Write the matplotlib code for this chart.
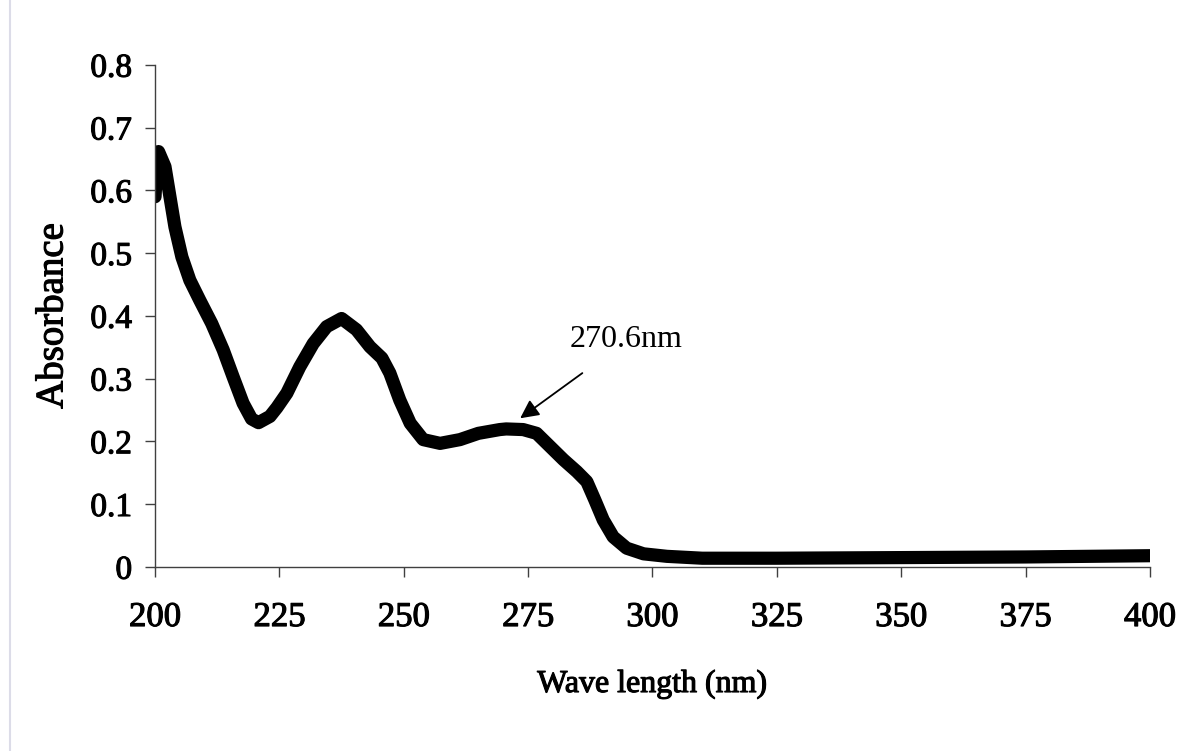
import matplotlib
matplotlib.use('Agg')
import matplotlib.pyplot as plt
import matplotlib.patheffects as pe
from matplotlib.lines import Line2D

plt.rcParams['font.family'] = ['Liberation Serif', 'DejaVu Serif']

# UV spectrum read point by point
wavelength = [200, 200.3, 200.7, 202.0, 203.0, 204.0, 205.4, 207.0, 209.0,
              211.4, 213.7, 215.7, 217.7, 219.4, 220.8, 223.1, 224.5, 226.5,
              229.1, 231.8, 234.5, 237.5, 240.5, 243.2, 245.6, 247.2, 249.2,
              251.3, 253.9, 257.3, 261.3, 265.0, 269.3, 270.6, 274.0, 276.7,
              279.4, 282.1, 284.8, 286.8, 288.4, 290.1, 292.1, 294.8, 298.2,
              302.9, 310, 325, 350, 375, 400]
absorbance = [0.590, 0.633, 0.662, 0.638, 0.590, 0.542, 0.494, 0.457, 0.425,
              0.388, 0.346, 0.303, 0.261, 0.236, 0.230, 0.240, 0.254, 0.277,
              0.319, 0.356, 0.383, 0.396, 0.378, 0.351, 0.333, 0.309, 0.266,
              0.229, 0.203, 0.197, 0.203, 0.213, 0.219, 0.220, 0.219, 0.213,
              0.192, 0.171, 0.152, 0.136, 0.107, 0.075, 0.048, 0.030, 0.021,
              0.017, 0.014, 0.014, 0.015, 0.016, 0.018]

x_ticks = [200, 225, 250, 275, 300, 325, 350, 375, 400]
y_ticks = [0, 0.1, 0.2, 0.3, 0.4, 0.5, 0.6, 0.7, 0.8]
y_tick_labels = ['0', '0.1', '0.2', '0.3', '0.4', '0.5', '0.6', '0.7', '0.8']

peak_label = '270.6nm'
arrow_tip = (273.4, 0.237)
arrow_tail = (285.9, 0.309)
label_pos = (294.7, 0.363)

fig = plt.figure(figsize=(11.78, 7.51), dpi=100)
ax = fig.add_axes([0.1316, 0.245, 0.8446, 0.6685])

ax.plot(wavelength, absorbance, color='black', lw=9.5,
        solid_capstyle='round', solid_joinstyle='round')

ax.set_xlim(200, 400)
ax.set_ylim(0, 0.8)
ax.set_xticks(x_ticks)
ax.set_yticks(y_ticks)
ax.set_yticklabels(y_tick_labels)

for s in ['top', 'right']:
    ax.spines[s].set_visible(False)
for s in ['left', 'bottom']:
    ax.spines[s].set_color('#404040')
    ax.spines[s].set_linewidth(1.0)

ax.tick_params(axis='both', direction='out', length=7.5, width=1.0,
               color='#404040', labelcolor='black')
ax.tick_params(axis='x', labelsize=25, pad=17)
ax.tick_params(axis='y', labelsize=24, pad=9)

ax.set_xlabel('Wave length (nm)', fontsize=23)
ax.set_ylabel('Absorbance', fontsize=28)
ax.xaxis.set_label_coords(0.5, -0.205)
ax.yaxis.set_label_coords(-0.084, 0.5)

# scanned text looks heavier, thicken the glyphs a bit
heavy = [pe.withStroke(linewidth=0.8, foreground='black')]
for t in ax.get_xticklabels() + ax.get_yticklabels():
    t.set_path_effects(heavy)
ax.xaxis.label.set_path_effects(heavy)
ax.yaxis.label.set_path_effects(heavy)

ax.annotate('', xy=arrow_tip, xytext=arrow_tail,
            arrowprops=dict(arrowstyle='-|>', color='black', lw=1.3,
                            mutation_scale=28, shrinkA=0, shrinkB=0))
ax.text(label_pos[0], label_pos[1], peak_label, fontsize=23,
        ha='center', va='center')

# thin border line at the left edge of the page
fig.add_artist(Line2D([0.0085, 0.0085], [0, 1], transform=fig.transFigure,
                      color='#dcdce8', lw=1.5))

fig.savefig('out.png', dpi=100, facecolor='white')
